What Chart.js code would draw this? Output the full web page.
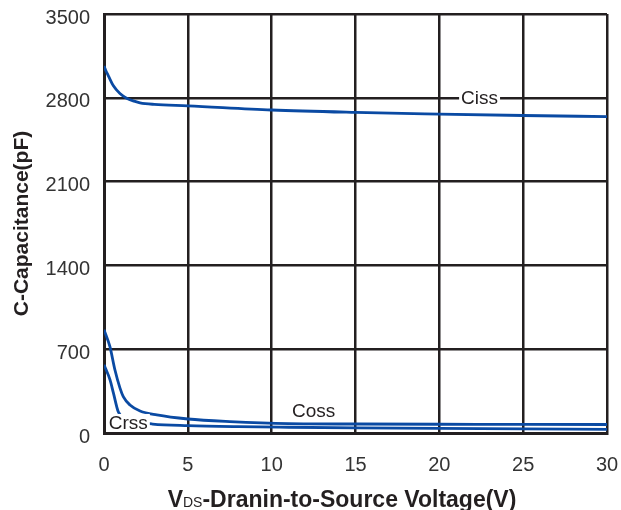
<!DOCTYPE html>
<html>
<head>
<meta charset="utf-8">
<script src="https://cdn.jsdelivr.net/npm/chart.js@4/dist/chart.umd.min.js"></script>
<style>
    body { margin: 0; background: #fff; }
    #wrap { width: 621px; height: 510px; }
</style>
</head>
<body>
<div id="wrap"><canvas id="chart" width="621" height="510"></canvas></div>
<script>
// Werte (V in Volt, C in pF)
let cissV = [0, 0.1, 0.26, 0.56, 0.95, 1.35, 1.8, 2.15, 3, 5, 10, 15, 20, 25, 30];
let cissC = [3065, 3030, 2984, 2900, 2836, 2797, 2772, 2758, 2745, 2733, 2698, 2678, 2664, 2652, 2643];

let cossV = [0, 0.35, 0.65, 0.95, 1.15, 1.55, 2.15, 3.15, 5, 7.5, 11, 15, 20, 25, 30];
let cossC = [863, 723, 528, 377, 304, 234, 184, 151, 117, 95, 78, 75, 73, 72, 71];

let crssV = [0, 0.36, 0.56, 0.85, 1.3, 2, 2.9, 5, 8, 11, 15, 20, 25, 30];
let crssC = [570, 444, 335, 178, 125, 92, 75, 62, 53, 48, 43, 38, 34, 31];

let xTicks = [0, 5, 10, 15, 20, 25, 30];
let yTicks = [0, 700, 1400, 2100, 2800, 3500];

// Beschriftungen der Kurven: Text, V, pF, weisser Hintergrund
let curveLabels = [
    ['Ciss', 22.4, 2800, true],
    ['Coss', 12.5, 184, false],
    ['Crss', 1.45, 84, true]
];

let fontFamily = '"Liberation Sans", Arial, Helvetica, sans-serif';
let lineColor = '#0a4aa3';
let gridColor = '#231f20';

function toPoints(xs, ys) {
    let pts = [];
    for (let i = 0; i < xs.length; i++) pts.push({x: xs[i], y: ys[i]});
    return pts;
}

function createDataset(label, xs, ys) {
    return {
        label: label,
        data: toPoints(xs, ys),
        borderColor: lineColor,
        borderWidth: 2.8,
        pointRadius: 0,
        fill: false,
        cubicInterpolationMode: 'monotone'
    };
}

let labelPlugin = {
    id: 'curveLabels',
    afterDatasetsDraw(chart) {
        let ctx = chart.ctx;
        let xs = chart.scales.x;
        let ys = chart.scales.y;
        ctx.save();
        ctx.font = '19px ' + fontFamily;
        ctx.textAlign = 'center';
        ctx.textBaseline = 'middle';
        for (let i = 0; i < curveLabels.length; i++) {
            let item = curveLabels[i];
            let px = xs.getPixelForValue(item[1]);
            let py = ys.getPixelForValue(item[2]);
            let w = ctx.measureText(item[0]).width;
            if (item[3]) {
                ctx.fillStyle = '#fff';
                ctx.fillRect(px - w / 2 - 2, py - 9, w + 4, 18);
            }
            ctx.fillStyle = '#231f20';
            ctx.fillText(item[0], px, py + 1);
        }
        ctx.restore();
    },
    afterDraw(chart) {
        // X-Achsentitel mit kleinem "DS"
        let ctx = chart.ctx;
        ctx.save();
        ctx.textBaseline = 'alphabetic';
        ctx.fillStyle = '#231f20';
        let parts = [
            ['V', 'bold 23px ' + fontFamily],
            ['DS', '14px ' + fontFamily],
            ['-Dranin-to-Source Voltage(V)', 'bold 23px ' + fontFamily]
        ];
        let total = 0;
        for (let i = 0; i < parts.length; i++) {
            ctx.font = parts[i][1];
            total += ctx.measureText(parts[i][0]).width;
        }
        let x = 342 - total / 2;
        for (let i = 0; i < parts.length; i++) {
            ctx.font = parts[i][1];
            ctx.fillText(parts[i][0], x, 507);
            x += ctx.measureText(parts[i][0]).width;
        }
        ctx.restore();
    }
};

function noPadding(scale) {
    scale.paddingTop = 0;
    scale.paddingBottom = 0;
    scale.paddingLeft = 0;
    scale.paddingRight = 0;
}

let chart = new Chart(document.getElementById('chart').getContext('2d'), {
    type: 'line',
    data: {
        datasets: [
            createDataset('Ciss', cissV, cissC),
            createDataset('Coss', cossV, cossC),
            createDataset('Crss', crssV, crssC)
        ]
    },
    options: {
        responsive: false,
        animation: false,
        layout: {padding: {top: 14, right: 14, left: 0, bottom: 0}},
        plugins: {legend: {display: false}, tooltip: {enabled: false}},
        scales: {
            x: {
                type: 'linear',
                min: 0,
                max: 30,
                afterBuildTicks: function (scale) {
                    scale.ticks = xTicks.map(function (v) { return {value: v}; });
                },
                afterFit: function (scale) {
                    scale.height = 77;
                    noPadding(scale);
                },
                grid: {color: gridColor, lineWidth: 2.5, drawTicks: false},
                border: {color: gridColor, width: 3},
                ticks: {
                    color: '#333',
                    padding: 20,
                    maxRotation: 0,
                    font: {family: fontFamily, size: 20},
                    callback: function (v) { return String(v); }
                }
            },
            y: {
                min: 0,
                max: 3500,
                afterBuildTicks: function (scale) {
                    scale.ticks = yTicks.map(function (v) { return {value: v}; });
                },
                afterFit: function (scale) {
                    scale.width = 104;
                    noPadding(scale);
                },
                grid: {color: gridColor, lineWidth: 2.5, drawTicks: false},
                border: {color: gridColor, width: 3},
                title: {
                    display: true,
                    text: 'C-Capacitance(pF)',
                    color: '#231f20',
                    padding: {top: 10, bottom: 4},
                    font: {family: fontFamily, size: 21, weight: 'bold'}
                },
                ticks: {
                    color: '#333',
                    padding: 14,
                    labelOffset: 4,
                    font: {family: fontFamily, size: 20},
                    callback: function (v) { return String(v); }
                }
            }
        }
    },
    plugins: [labelPlugin]
});
</script>
</body>
</html>
